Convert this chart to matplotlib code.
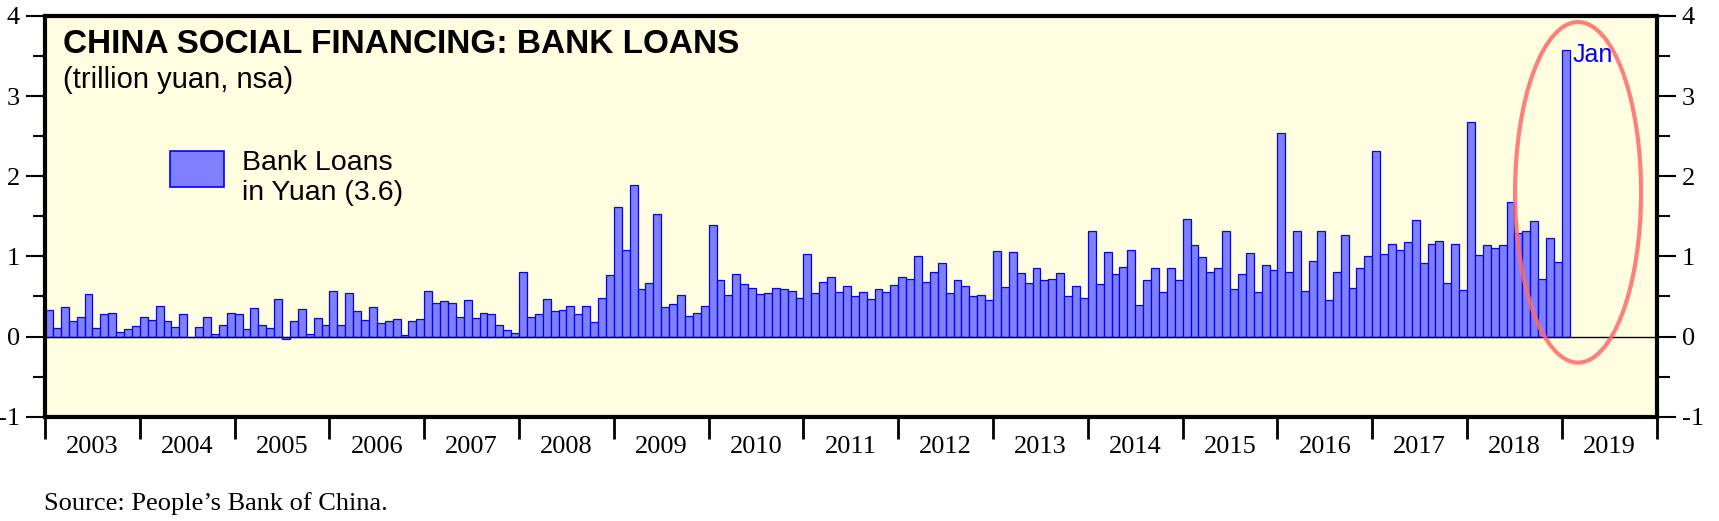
import numpy as np
import pandas as pd
import matplotlib.pyplot as plt
from matplotlib.patches import Ellipse, Rectangle
from matplotlib.ticker import MultipleLocator

plt.rcParams['axes.unicode_minus'] = False

# monthly new bank loans in yuan (trillion yuan, nsa)
loans_2003 = [0.33, 0.11, 0.37, 0.19, 0.25, 0.53, 0.11, 0.28, 0.30, 0.06, 0.10, 0.13]
loans_2004 = [0.25, 0.21, 0.38, 0.20, 0.12, 0.28, 0.00, 0.12, 0.25, 0.03, 0.15, 0.30]
loans_2005 = [0.28, 0.09, 0.36, 0.14, 0.11, 0.47, -0.03, 0.19, 0.34, 0.03, 0.23, 0.15]
loans_2006 = [0.57, 0.15, 0.54, 0.32, 0.21, 0.37, 0.17, 0.19, 0.22, 0.02, 0.19, 0.22]
loans_2007 = [0.57, 0.42, 0.44, 0.42, 0.25, 0.45, 0.23, 0.30, 0.28, 0.14, 0.08, 0.05]
loans_2008 = [0.80, 0.24, 0.28, 0.47, 0.32, 0.33, 0.38, 0.28, 0.38, 0.18, 0.48, 0.77]
loans_2009 = [1.62, 1.08, 1.89, 0.59, 0.67, 1.53, 0.37, 0.41, 0.52, 0.26, 0.30, 0.38]
loans_2010 = [1.39, 0.70, 0.52, 0.78, 0.65, 0.60, 0.53, 0.54, 0.60, 0.59, 0.57, 0.48]
loans_2011 = [1.03, 0.54, 0.68, 0.74, 0.55, 0.63, 0.50, 0.55, 0.47, 0.59, 0.56, 0.64]
loans_2012 = [0.74, 0.72, 1.01, 0.68, 0.80, 0.92, 0.54, 0.70, 0.63, 0.51, 0.52, 0.45]
loans_2013 = [1.07, 0.62, 1.06, 0.79, 0.67, 0.86, 0.70, 0.72, 0.79, 0.51, 0.63, 0.48]
loans_2014 = [1.32, 0.65, 1.05, 0.78, 0.87, 1.08, 0.39, 0.70, 0.85, 0.55, 0.85, 0.70]
loans_2015 = [1.47, 1.14, 0.99, 0.80, 0.85, 1.32, 0.59, 0.78, 1.04, 0.56, 0.89, 0.83]
loans_2016 = [2.54, 0.81, 1.32, 0.57, 0.94, 1.32, 0.46, 0.80, 1.27, 0.60, 0.85, 1.00]
loans_2017 = [2.32, 1.03, 1.16, 1.08, 1.18, 1.45, 0.92, 1.15, 1.19, 0.67, 1.15, 0.58]
loans_2018 = [2.68, 1.02, 1.14, 1.10, 1.14, 1.68, 1.29, 1.32, 1.44, 0.72, 1.23, 0.93]
loans_2019 = [3.57]

years = list(range(2003, 2020))
loans = (loans_2003 + loans_2004 + loans_2005 + loans_2006 + loans_2007 + loans_2008
         + loans_2009 + loans_2010 + loans_2011 + loans_2012 + loans_2013 + loans_2014
         + loans_2015 + loans_2016 + loans_2017 + loans_2018 + loans_2019)
dates = pd.date_range('2003-01-01', periods=len(loans), freq='MS')
df = pd.DataFrame({'date': dates, 'loans': loans})
# months since Jan 2003, bar centred in its month
df['x'] = (df['date'].dt.year - 2003) * 12 + df['date'].dt.month - 1 + 0.5

W, H = 1719, 521
fig = plt.figure(figsize=(W / 100, H / 100), dpi=100)
ax = fig.add_axes([45 / W, 1 - 416.7 / H, 1611.7 / W, 400.7 / H])
ax.set_facecolor('#FFFEE0')

ax.bar(df['x'], df['loans'], width=1.0, color='#8080FF', edgecolor='#0000FF', linewidth=0.9, zorder=2)
ax.axhline(0, color='black', linewidth=1.0, zorder=3)

ax.set_xlim(0, 12 * (len(years)))
ax.set_ylim(-1, 4)

serif = 'Liberation Serif'
sans = 'Liberation Sans'

# y axis on both sides
ax.yaxis.set_major_locator(MultipleLocator(1))
ax.yaxis.set_minor_locator(MultipleLocator(0.5))
ax.tick_params(axis='y', which='both', left=True, right=True, labelleft=True, labelright=True,
               direction='out', width=1.5)
ax.tick_params(axis='y', which='major', length=14, pad=4, labelsize=19)
ax.tick_params(axis='y', which='minor', length=9)
for lab in ax.get_yticklabels():
    lab.set_family(serif)

# x axis: year boundaries as ticks, year names in between
ax.set_xticks(np.arange(0, 12 * len(years) + 1, 12))
ax.set_xticklabels([])
ax.set_xticks(np.arange(6, 12 * len(years), 12), minor=True)
ax.set_xticklabels([str(y) for y in years], minor=True, family=serif, fontsize=19)
ax.tick_params(axis='x', which='major', direction='out', length=16, width=2)
ax.tick_params(axis='x', which='minor', length=0, pad=14)

for s in ax.spines.values():
    s.set_linewidth(3)

# title and subtitle
ax.text(0.0112, 0.9077, 'CHINA SOCIAL FINANCING: BANK LOANS', transform=ax.transAxes,
        family=sans, fontweight='bold', fontsize=24, va='baseline', ha='left')
ax.text(0.0112, 0.8203, '(trillion yuan, nsa)', transform=ax.transAxes,
        family=sans, fontsize=21, va='baseline', ha='left')

# legend
ax.add_patch(Rectangle((0.0776, 0.5733), 0.0334, 0.0898, transform=ax.transAxes,
                       facecolor='#8080FF', edgecolor='#0000FF', linewidth=1.2, zorder=4))
ax.text(0.1222, 0.6157, 'Bank Loans', transform=ax.transAxes, family=sans, fontsize=20.5, va='baseline')
ax.text(0.1222, 0.5408, 'in Yuan (3.6)', transform=ax.transAxes, family=sans, fontsize=20.5, va='baseline')

# latest month annotation
last = df.iloc[-1]
ax.text(last['x'] + 0.9, 3.43, 'Jan', color='#0000FF', family=sans, fontsize=18, va='baseline', zorder=5)
ax.add_patch(Ellipse((last['x'] + 1.55, 1.80), 15.95, 4.25, fill=False, edgecolor='#FF6A6A',
                     linewidth=3, alpha=0.85, zorder=6))

fig.text(44 / W, 1 - 510 / H, 'Source: People\u2019s Bank of China.', family=serif, fontsize=19, va='baseline')

plt.savefig('out.png', dpi=100)
